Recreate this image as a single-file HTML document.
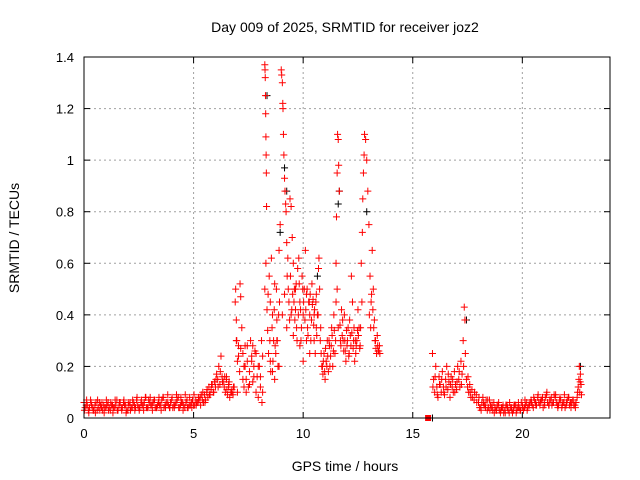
<!DOCTYPE html>
<html><head><meta charset="utf-8"><style>
body{margin:0;background:#fff;}
svg{display:block;font-family:"Liberation Sans",sans-serif;}
</style></head><body>
<svg id="chart" width="640" height="480">
<rect x="0" y="0" width="640" height="480" fill="#fff"/>
<text x="345" y="32" font-size="14" text-anchor="middle">Day 009 of 2025, SRMTID for receiver joz2</text>
<text x="345" y="471" font-size="14" text-anchor="middle">GPS time / hours</text>
<text transform="translate(19,238) rotate(-90)" font-size="14" text-anchor="middle">SRMTID / TECUs</text>
<g id="grid"></g><g id="ticks"></g><g id="marks"></g>
<rect x="84" y="57" width="526" height="361" fill="none" stroke="#000" stroke-width="1"/>
</svg>
<script>
const xTicks=[0,5,10,15,20];
const yTicks=[0,0.2,0.4,0.6,0.8,1,1.2,1.4];
const yTickLabels=["0","0.2","0.4","0.6","0.8","1","1.2","1.4"];
const earlyTimes=[0,0.05,0.1,0.15,0.2,0.25,0.3,0.35,0.4,0.45,0.5,0.55,0.6,0.65,0.7,0.75,0.8,0.85,0.9,0.95,1,1.05,1.1,1.15,1.2,1.25,1.3,1.35,1.4,1.45,1.5,1.55,1.6,1.65,1.7,1.75,1.8,1.85,1.9,1.95,2,2.05,2.1,2.15,2.2,2.25,2.3,2.35,2.4,2.45,2.5,2.55,2.6,2.65,2.7,2.75,2.8,2.85,2.9,2.95,3,3.05,3.1,3.15,3.2,3.25,3.3,3.35,3.4,3.45,3.5,3.55,3.6,3.65,3.7,3.75,3.8,3.85,3.9,3.95,4,4.05,4.1,4.15,4.2,4.25,4.3,4.35,4.4,4.45,4.5,4.55,4.6,4.65,4.7,4.75,4.8,4.85,4.9,4.95,5,5.05,5.1,5.15,5.2,5.25,5.3,5.35,5.4,5.45,5.5,5.55,5.6,5.65,5.7,5.75,5.8,5.85,5.9,5.95,6,6.05,6.1,6.15,6.2,6.25,6.3,6.35,6.4,6.45,6.5,6.55,6.6,6.65,6.7,6.75,6.8,6.85];
const earlyValues=[0.06,0.04,0.05,0.05,0.03,0.04,0.07,0.05,0.04,0.03,0.05,0.06,0.03,0.04,0.06,0.05,0.04,0.03,0.05,0.04,0.04,0.05,0.06,0.04,0.03,0.05,0.05,0.04,0.04,0.05,0.07,0.03,0.05,0.06,0.04,0.04,0.06,0.05,0.05,0.03,0.03,0.05,0.06,0.04,0.04,0.06,0.05,0.04,0.07,0.05,0.04,0.04,0.06,0.05,0.05,0.06,0.08,0.04,0.04,0.07,0.06,0.05,0.05,0.06,0.07,0.04,0.04,0.05,0.06,0.05,0.05,0.07,0.08,0.04,0.05,0.06,0.06,0.05,0.04,0.06,0.07,0.04,0.05,0.05,0.06,0.07,0.08,0.04,0.05,0.06,0.06,0.05,0.04,0.06,0.07,0.04,0.05,0.05,0.06,0.07,0.05,0.05,0.07,0.06,0.06,0.07,0.08,0.09,0.07,0.06,0.09,0.07,0.1,0.08,0.12,0.09,0.11,0.13,0.1,0.14,0.12,0.17,0.15,0.2,0.13,0.24,0.16,0.14,0.12,0.1,0.15,0.09,0.12,0.08,0.1,0.11,0.09,0.12];
const earlyExtraTimes=[0.02,0.12,0.22,0.32,0.42,0.52,0.62,0.72,0.82,0.92,1.02,1.12,1.22,1.32,1.42,1.52,1.62,1.72,1.82,1.92,2.02,2.12,2.22,2.32,2.42,2.52,2.62,2.72,2.82,2.92,3.02,3.12,3.22,3.32,3.42,3.52,3.62,3.72,3.82,3.92,4.02,4.12,4.22,4.32,4.42,4.52,4.62,4.72,4.82,4.92,5.02,5.12,5.22,5.32,5.42,5.52,5.62,5.72,5.82,5.92,6.02,6.12,6.22,6.32,6.42,6.52,6.62,6.72,6.82];
const earlyExtraValues=[0.03,0.07,0.02,0.06,0.03,0.02,0.07,0.03,0.06,0.02,0.07,0.03,0.06,0.02,0.07,0.03,0.06,0.03,0.07,0.02,0.06,0.03,0.07,0.03,0.08,0.03,0.07,0.03,0.08,0.04,0.08,0.03,0.07,0.04,0.08,0.03,0.08,0.04,0.09,0.04,0.08,0.04,0.09,0.04,0.08,0.03,0.09,0.04,0.08,0.04,0.09,0.05,0.08,0.05,0.1,0.06,0.11,0.09,0.13,0.1,0.15,0.12,0.18,0.14,0.16,0.11,0.14,0.1,0.12];
const stormTimes=[6.9,6.92,6.95,6.97,7.0,7.05,7.1,7.12,7.15,7.2,7.25,7.3,7.35,7.4,7.45,7.5,7.55,7.6,7.65,7.7,7.75,7.8,7.85,7.9,7.95,8.0,8.05,8.1,8.12,8.25,8.26,8.27,8.28,8.29,8.3,8.31,8.32,8.33,8.3,8.25,8.35,8.38,8.4,8.45,8.5,8.55,8.6,8.65,8.7,8.75,8.8,8.85,8.9,8.95,9.0,9.02,9.05,9.07,9.08,9.1,9.12,9.15,9.17,9.2,9.22,9.25,9.27,9.3,9.35,9.4,9.45,9.5,9.55,9.6,9.65,9.7,9.75,9.8,9.85,9.9,9.95,10.0,10.05,10.1,10.15,10.2,10.25,10.3,10.35,10.4,10.45,10.5,10.55,10.6,10.65,10.7,10.72,10.75,10.8,10.85,10.9,10.95,11.0,11.05,11.1,11.15,11.2,11.25,11.3,11.35,11.4,11.45,11.5,11.52,11.55,11.57,11.6,11.62,11.65,11.5,11.55,11.6,11.7,11.75,11.8,11.85,11.9,11.95,12.0,12.05,12.1,12.15,12.2,12.25,12.3,12.35,12.4,12.45,12.5,12.55,12.6,12.65,12.7,12.72,12.75,12.78,12.8,12.85,12.9,12.95,13.0,13.05,13.1,13.15,13.2,13.25,13.3,13.35,13.4,13.45,13.5,9.05,9.15,9.25,9.45,9.55,9.65,9.85,10.0,10.15,10.3,10.5,10.6,8.5,8.6,8.7,8.8,7.7,7.3,6.75,6.6,6.5,7.0,7.4,8.15,8.9];
const stormValues=[0.45,0.5,0.38,0.3,0.22,0.28,0.18,0.52,0.47,0.35,0.25,0.2,0.28,0.15,0.22,0.12,0.18,0.3,0.24,0.14,0.2,0.26,0.1,0.16,0.08,0.2,0.12,0.3,0.06,1.37,1.35,1.32,1.25,1.18,1.09,1.02,0.95,0.82,0.6,0.5,0.42,0.34,0.48,0.55,0.45,0.62,0.4,0.3,0.52,0.25,0.38,0.2,0.65,0.75,1.35,1.33,1.3,1.22,1.2,1.1,1.02,0.93,0.88,0.83,0.8,0.68,0.55,0.62,0.45,0.85,0.82,0.7,0.6,0.5,0.42,0.35,0.58,0.62,0.45,0.3,0.55,0.4,0.5,0.65,0.48,0.35,0.45,0.4,0.3,0.52,0.46,0.3,0.25,0.48,0.4,0.58,0.62,0.5,0.35,0.2,0.17,0.25,0.15,0.22,0.3,0.18,0.28,0.24,0.35,0.2,0.4,0.25,0.6,0.78,0.95,1.1,1.08,0.98,0.88,0.45,0.5,0.35,0.3,0.42,0.38,0.26,0.3,0.22,0.28,0.35,0.25,0.32,0.55,0.45,0.3,0.22,0.25,0.3,0.42,0.35,0.28,0.6,0.72,0.85,0.95,1.02,1.1,1.08,1.0,0.88,0.75,0.55,0.45,0.65,0.5,0.38,0.3,0.25,0.28,0.26,0.25,0.4,0.48,0.35,0.4,0.32,0.5,0.28,0.22,0.3,0.25,0.4,0.35,0.22,0.18,0.15,0.3,0.28,0.12,0.1,0.13,0.16,0.1,0.1,0.1,0.2];
const stormExtraTimes=[6.95,7.05,7.15,7.25,7.35,7.45,7.55,7.65,7.75,7.85,7.95,8.05,8.15,8.42,8.48,8.52,8.58,8.62,8.68,8.72,8.78,8.82,8.88,8.92,9.32,9.38,9.42,9.48,9.52,9.58,9.62,9.68,9.72,9.78,9.82,9.88,9.92,9.98,10.02,10.08,10.12,10.18,10.22,10.28,10.32,10.38,10.42,10.48,10.52,10.58,10.62,10.68,10.78,10.82,10.88,10.92,10.98,11.02,11.08,11.12,11.18,11.22,11.28,11.32,11.38,11.42,11.48,11.68,11.72,11.78,11.82,11.88,11.92,11.98,12.02,12.08,12.12,12.18,12.22,12.28,12.32,12.38,12.42,12.48,12.52,12.58,12.62,12.68,13.02,13.08,13.12,13.18,13.22,13.28,13.32,13.38,13.42,13.48];
const stormExtraValues=[0.3,0.24,0.27,0.15,0.2,0.28,0.13,0.22,0.16,0.25,0.2,0.16,0.24,0.25,0.3,0.18,0.35,0.22,0.42,0.28,0.5,0.3,0.4,0.45,0.5,0.38,0.55,0.42,0.48,0.45,0.38,0.52,0.3,0.4,0.52,0.42,0.35,0.5,0.45,0.38,0.42,0.5,0.32,0.45,0.48,0.38,0.44,0.36,0.42,0.45,0.32,0.4,0.3,0.25,0.2,0.22,0.18,0.27,0.2,0.24,0.3,0.2,0.28,0.32,0.26,0.34,0.3,0.36,0.28,0.32,0.3,0.4,0.26,0.34,0.3,0.24,0.38,0.28,0.33,0.27,0.35,0.3,0.28,0.34,0.32,0.27,0.35,0.45,0.4,0.35,0.48,0.42,0.35,0.3,0.27,0.32,0.26,0.28];
const lateTimes=[15.9,15.95,16.0,16.05,16.1,16.15,16.2,16.25,16.3,16.35,16.4,16.45,16.5,16.55,16.6,16.65,16.7,16.75,16.8,16.85,16.9,16.95,17.0,17.05,17.1,17.15,17.2,17.25,17.3,17.35,17.38,17.4,17.45,17.5,17.55,17.6,17.65,17.7,17.8,17.9,18.0,18.05,18.1,18.15,18.2,18.25,18.3,18.35,18.4,18.45,18.5,18.55,18.6,18.65,18.7,18.75,18.8,18.85,18.9,18.95,19.0,19.05,19.1,19.15,19.2,19.25,19.3,19.35,19.4,19.45,19.5,19.55,19.6,19.65,19.7,19.75,19.8,19.85,19.9,19.95,20.0,20.05,20.1,20.15,20.2,20.25,20.3,20.35,20.4,20.45,20.5,20.55,20.6,20.65,20.7,20.75,20.8,20.85,20.9,20.95,21.0,21.05,21.1,21.15,21.2,21.25,21.3,21.35,21.4,21.45,21.5,21.55,21.6,21.65,21.7,21.75,21.8,21.85,21.9,21.95,22.0,22.05,22.1,22.15,22.2,22.25,22.3,22.35,22.4,22.45,22.5,22.55,22.58,22.6,22.62,22.65,22.68,22.7];
const lateValues=[0.25,0.15,0.1,0.2,0.12,0.08,0.16,0.13,0.1,0.18,0.12,0.09,0.15,0.2,0.11,0.14,0.08,0.16,0.12,0.1,0.18,0.13,0.11,0.2,0.15,0.12,0.22,0.17,0.3,0.43,0.38,0.25,0.15,0.12,0.1,0.13,0.08,0.11,0.07,0.09,0.06,0.04,0.04,0.06,0.08,0.05,0.05,0.07,0.03,0.04,0.07,0.05,0.04,0.03,0.06,0.04,0.03,0.05,0.05,0.03,0.02,0.04,0.04,0.02,0.03,0.05,0.05,0.03,0.02,0.04,0.04,0.02,0.03,0.05,0.05,0.03,0.04,0.04,0.03,0.06,0.05,0.03,0.04,0.05,0.06,0.04,0.05,0.06,0.07,0.05,0.04,0.07,0.06,0.05,0.08,0.06,0.05,0.07,0.07,0.04,0.06,0.08,0.09,0.06,0.05,0.07,0.07,0.05,0.06,0.09,0.08,0.06,0.05,0.05,0.07,0.07,0.04,0.06,0.06,0.04,0.05,0.07,0.08,0.05,0.06,0.06,0.07,0.05,0.05,0.06,0.08,0.12,0.15,0.2,0.1,0.17,0.13,0.09];
const lateExtraTimes=[15.92,16.02,16.12,16.22,16.32,16.42,16.52,16.62,16.72,16.82,16.92,17.02,17.12,17.22,17.32,17.52,17.62,17.72,17.82,17.92,18.02,18.12,18.22,18.32,18.42,18.52,18.62,18.72,18.82,18.92,19.02,19.12,19.22,19.32,19.42,19.52,19.62,19.72,19.82,19.92,20.02,20.12,20.22,20.32,20.42,20.52,20.62,20.72,20.82,20.92,21.02,21.12,21.22,21.32,21.42,21.52,21.62,21.72,21.82,21.92,22.02,22.12,22.22,22.32,22.42,22.52,22.64];
const lateExtraValues=[0.12,0.16,0.09,0.13,0.15,0.1,0.12,0.17,0.13,0.15,0.1,0.14,0.18,0.13,0.2,0.16,0.1,0.08,0.1,0.06,0.08,0.03,0.06,0.04,0.07,0.03,0.05,0.02,0.03,0.06,0.03,0.05,0.02,0.04,0.06,0.03,0.05,0.02,0.06,0.03,0.04,0.07,0.03,0.05,0.06,0.08,0.05,0.09,0.06,0.08,0.05,0.1,0.05,0.08,0.06,0.09,0.04,0.08,0.05,0.09,0.06,0.08,0.04,0.07,0.04,0.1,0.14];
const blackTimes=[8.3,9.1,9.2,11.6,11.55,12.85,15.85,17.4,22.6,8.9,10.6];
const blackValues=[1.25,0.97,0.88,0.88,0.83,0.8,0,0.38,0.2,0.72,0.55];
const squareTimes=[15.7];
const squareValues=[0];

const NS="http://www.w3.org/2000/svg";
const L=84,R=610,T=57,B=418;
function xs(t){return L+(t/24)*(R-L);}
function ys(v){return B-(v/1.4)*(B-T);}
function mk(tag,attrs,parent){const e=document.createElementNS(NS,tag);for(const k in attrs)e.setAttribute(k,attrs[k]);parent.appendChild(e);return e;}
const grid=document.getElementById('grid'),ticks=document.getElementById('ticks'),marks=document.getElementById('marks');
xTicks.forEach((t,i)=>{
  const x=xs(t);
  if(i>0){const g=mk('line',{x1:x,y1:T,x2:x,y2:B,stroke:'#a0a0a0','stroke-dasharray':'2,3'},grid);
  
  }
  mk('line',{x1:x,y1:B,x2:x,y2:B-6,stroke:'#000'},ticks);
  mk('line',{x1:x,y1:T,x2:x,y2:T+6,stroke:'#000'},ticks);
  const lb=mk('text',{x:x,y:B+20,'font-size':13,'text-anchor':'middle'},ticks);
  lb.textContent=String(t);
  
  
});
yTicks.forEach((v,i)=>{
  const y=ys(v);
  if(i>0&&i<yTicks.length-1){const g=mk('line',{x1:L,y1:y,x2:R,y2:y,stroke:'#a0a0a0','stroke-dasharray':'2,3'},grid);
  
  }
  mk('line',{x1:L,y1:y,x2:L+6,y2:y,stroke:'#000'},ticks);
  mk('line',{x1:R,y1:y,x2:R-6,y2:y,stroke:'#000'},ticks);
  const lb=mk('text',{x:L-10,y:y+5,'font-size':13,'text-anchor':'end'},ticks);
  lb.textContent=yTickLabels[i];
  
  
});
function plus(t,v,color,name){
  const x=xs(t),y=ys(v);
  const p=mk('path',{d:`M${x-3.5},${y}H${x+3.5}M${x},${y-3.5}V${y+3.5}`,stroke:color,'stroke-width':1,fill:'none'},marks);
  
  
}
blackTimes.forEach((t,i)=>plus(t+0.05,blackValues[i],'#000','black-point'));
earlyTimes.forEach((t,i)=>plus(t,earlyValues[i],'#ff0000','red-point'));
earlyExtraTimes.forEach((t,i)=>plus(t,earlyExtraValues[i],'#ff0000','red-point'));
stormTimes.forEach((t,i)=>plus(t,stormValues[i],'#ff0000','red-point'));
stormExtraTimes.forEach((t,i)=>plus(t,stormExtraValues[i],'#ff0000','red-point'));
lateTimes.forEach((t,i)=>plus(t,lateValues[i],'#ff0000','red-point'));
lateExtraTimes.forEach((t,i)=>plus(t,lateExtraValues[i],'#ff0000','red-point'));
squareTimes.forEach((t,i)=>{
  const s=mk('rect',{x:xs(t)-3,y:ys(squareValues[i])-3,width:6,height:6,fill:'#ff0000'},marks);
  
  
});
</script>
</body></html>
